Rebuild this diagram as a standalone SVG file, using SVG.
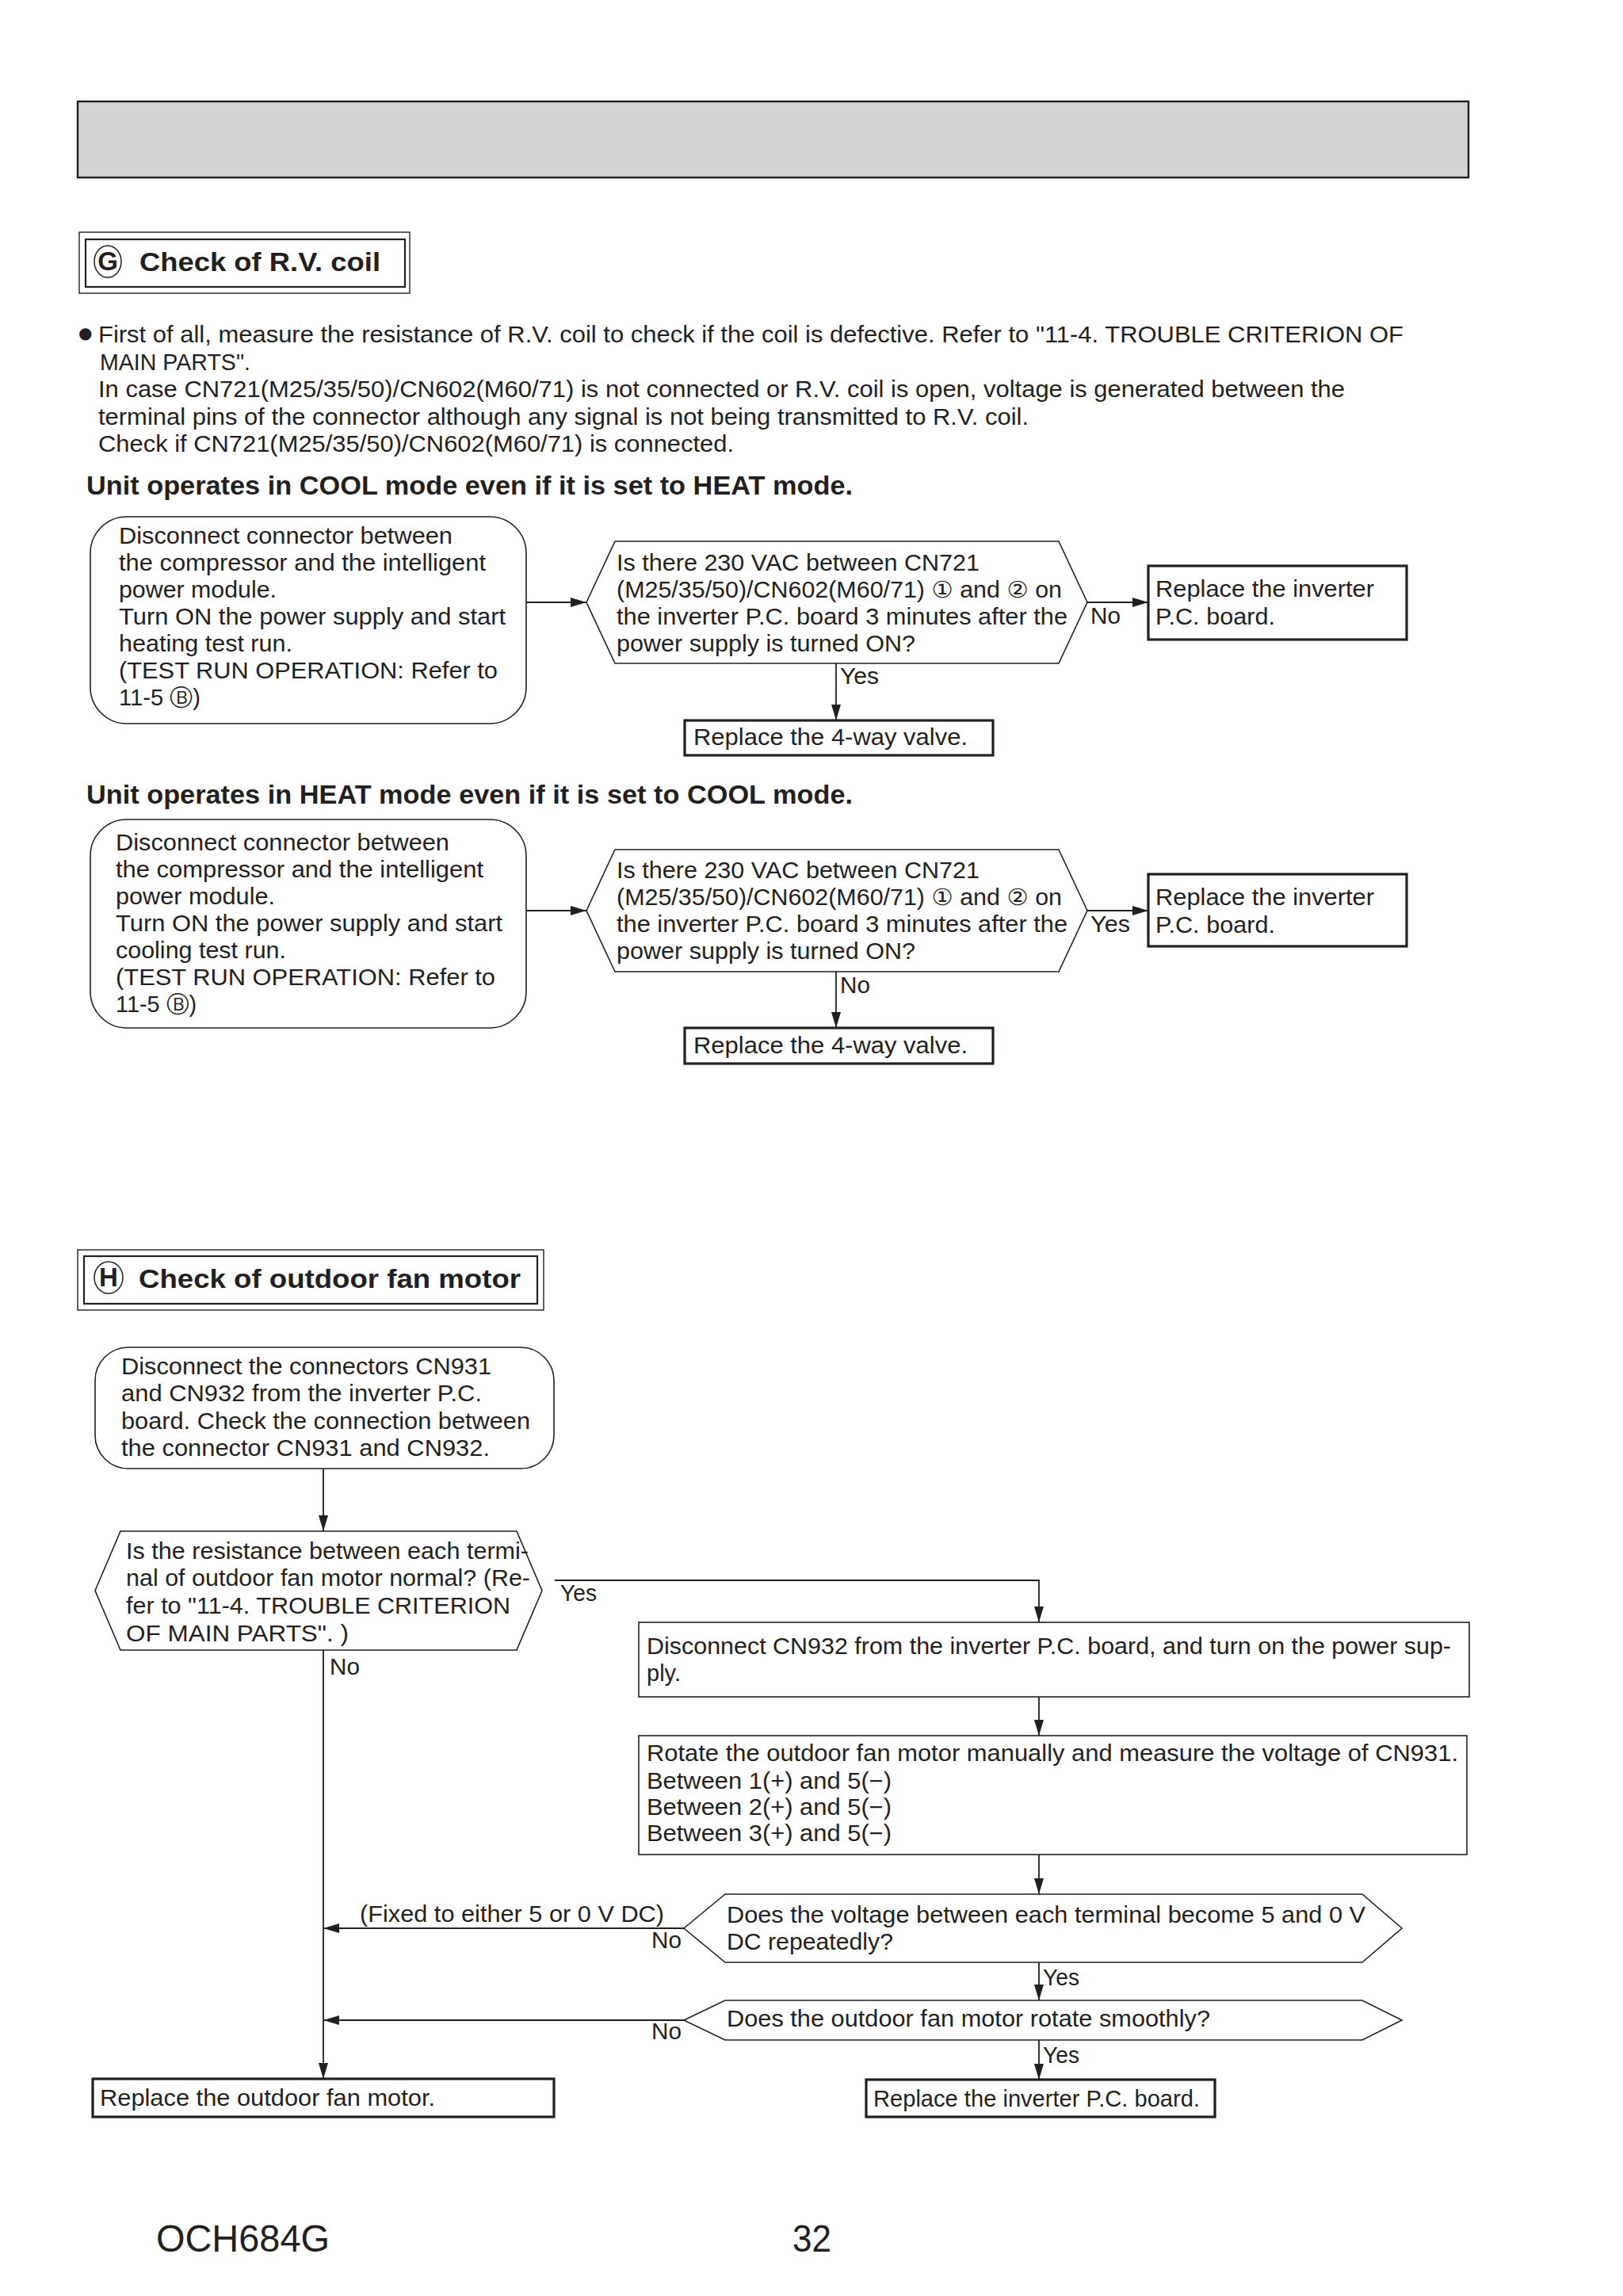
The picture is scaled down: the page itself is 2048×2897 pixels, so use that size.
<svg xmlns="http://www.w3.org/2000/svg" width="2048" height="2897" viewBox="0 0 2048 2897">
<style>
.t{font-family:"Liberation Sans","DejaVu Sans",Arial,sans-serif;font-size:29px;fill:#231f20}
.b{font-family:"Liberation Sans","DejaVu Sans",Arial,sans-serif;font-size:33px;font-weight:bold;fill:#231f20}
.f{font-family:"Liberation Sans","DejaVu Sans",Arial,sans-serif;font-size:48px;fill:#231f20}
.s{fill:#fff;stroke:#231f20;stroke-width:1.6}
.k{fill:#fff;stroke:#231f20;stroke-width:3.2}
.c{fill:none;stroke:#231f20;stroke-width:1.8}
</style>
<defs>
<marker id="ah" markerUnits="userSpaceOnUse" markerWidth="20" markerHeight="12" refX="20" refY="6" orient="auto">
<path d="M0,0 L20,6 L0,12 z" fill="#231f20"/>
</marker>
</defs>
<rect width="2048" height="2897" fill="#fff"/>
<g id="header"><rect x="98" y="128" width="1755" height="96" fill="#d3d4d6" stroke="#231f20" stroke-width="2.4"/></g>

<g id="titleG">
<rect x="100" y="293" width="417" height="77" fill="none" stroke="#231f20" stroke-width="1.4"/>
<rect x="108" y="302" width="403" height="60" fill="none" stroke="#231f20" stroke-width="2.2"/>
<ellipse cx="136" cy="330" rx="17" ry="20" fill="none" stroke="#231f20" stroke-width="1.5"/>
<text class="b" x="136" y="341" text-anchor="middle" font-size="30">G</text>
<text class="b" x="176" y="342" textLength="304" lengthAdjust="spacingAndGlyphs">Check of R.V. coil</text>
</g>

<g id="intro">
<text x="99" y="427" style="font-family:'DejaVu Sans',sans-serif;font-size:20px;fill:#231f20">●</text>
<text class="t" x="124" y="432" textLength="1647" lengthAdjust="spacingAndGlyphs">First of all, measure the resistance of R.V. coil to check if the coil is defective. Refer to "11-4. TROUBLE CRITERION OF</text>
<text class="t" x="126" y="467" textLength="190" lengthAdjust="spacingAndGlyphs">MAIN PARTS".</text>
<text class="t" x="124" y="501" textLength="1573" lengthAdjust="spacingAndGlyphs">In case CN721(M25/35/50)/CN602(M60/71) is not connected or R.V. coil is open, voltage is generated between the</text>
<text class="t" x="124" y="536" textLength="1174" lengthAdjust="spacingAndGlyphs">terminal pins of the connector although any signal is not being transmitted to R.V. coil.</text>
<text class="t" x="124" y="570" textLength="802" lengthAdjust="spacingAndGlyphs">Check if CN721(M25/35/50)/CN602(M60/71) is connected.</text>
<text class="b" x="109" y="624" textLength="967" lengthAdjust="spacingAndGlyphs">Unit operates in COOL mode even if it is set to HEAT mode.</text>
<text class="b" x="109" y="1014" textLength="967" lengthAdjust="spacingAndGlyphs">Unit operates in HEAT mode even if it is set to COOL mode.</text>
</g>

<g id="connectors">
<line class="c" x1="664" y1="760" x2="740" y2="760" marker-end="url(#ah)"/>
<line class="c" x1="1372" y1="760" x2="1449" y2="760" marker-end="url(#ah)"/>
<line class="c" x1="1055" y1="837" x2="1055" y2="909" marker-end="url(#ah)"/>
<line class="c" x1="664" y1="1149" x2="740" y2="1149" marker-end="url(#ah)"/>
<line class="c" x1="1372" y1="1149" x2="1449" y2="1149" marker-end="url(#ah)"/>
<line class="c" x1="1055" y1="1226" x2="1055" y2="1297" marker-end="url(#ah)"/>
<line class="c" x1="408" y1="1853" x2="408" y2="1932" marker-end="url(#ah)"/>
<path class="c" d="M700,1994 H1311 V2047" marker-end="url(#ah)"/>
<line class="c" x1="1311" y1="2141" x2="1311" y2="2190" marker-end="url(#ah)"/>
<line class="c" x1="1311" y1="2340" x2="1311" y2="2390" marker-end="url(#ah)"/>
<line class="c" x1="863" y1="2433" x2="408" y2="2433" stroke-width="2.4" marker-end="url(#ah)"/>
<line class="c" x1="1311" y1="2476" x2="1311" y2="2524" marker-end="url(#ah)"/>
<line class="c" x1="863" y1="2549" x2="408" y2="2549" stroke-width="2.4" marker-end="url(#ah)"/>
<line class="c" x1="1311" y1="2574" x2="1311" y2="2624" marker-end="url(#ah)"/>
<line class="c" x1="408" y1="2082" x2="408" y2="2623" marker-end="url(#ah)"/>
<text class="t" x="1376" y="787" textLength="38" lengthAdjust="spacingAndGlyphs">No</text>
<text class="t" x="1060" y="863" textLength="49" lengthAdjust="spacingAndGlyphs">Yes</text>
<text class="t" x="1376" y="1176" textLength="50" lengthAdjust="spacingAndGlyphs">Yes</text>
<text class="t" x="1060" y="1253" textLength="38" lengthAdjust="spacingAndGlyphs">No</text>
<text class="t" x="707" y="2020" textLength="46" lengthAdjust="spacingAndGlyphs">Yes</text>
<text class="t" x="416" y="2113" textLength="38" lengthAdjust="spacingAndGlyphs">No</text>
<text class="t" x="454" y="2425" textLength="384" lengthAdjust="spacingAndGlyphs">(Fixed to either 5 or 0 V DC)</text>
<text class="t" x="822" y="2458" textLength="38" lengthAdjust="spacingAndGlyphs">No</text>
<text class="t" x="1316" y="2505" textLength="46" lengthAdjust="spacingAndGlyphs">Yes</text>
<text class="t" x="822" y="2573" textLength="38" lengthAdjust="spacingAndGlyphs">No</text>
<text class="t" x="1316" y="2603" textLength="46" lengthAdjust="spacingAndGlyphs">Yes</text>
</g>

<g id="g1-start">
<rect class="s" x="114" y="652" width="550" height="261" rx="46"/>
<text class="t" x="150" y="686" textLength="421" lengthAdjust="spacingAndGlyphs">Disconnect connector between</text>
<text class="t" x="150" y="720" textLength="463" lengthAdjust="spacingAndGlyphs">the compressor and the intelligent</text>
<text class="t" x="150" y="754" textLength="199" lengthAdjust="spacingAndGlyphs">power module.</text>
<text class="t" x="150" y="788" textLength="488" lengthAdjust="spacingAndGlyphs">Turn ON the power supply and start</text>
<text class="t" x="150" y="822" textLength="219" lengthAdjust="spacingAndGlyphs">heating test run.</text>
<text class="t" x="150" y="856" textLength="478" lengthAdjust="spacingAndGlyphs">(TEST RUN OPERATION: Refer to</text>
<text class="t" x="150" y="890" textLength="103" lengthAdjust="spacingAndGlyphs">11-5 Ⓑ)</text>
</g>
<g id="g1-decision">
<polygon class="s" points="740,760 776,683 1336,683 1372,760 1336,837 776,837"/>
<text class="t" x="778" y="720" textLength="458" lengthAdjust="spacingAndGlyphs">Is there 230 VAC between CN721</text>
<text class="t" x="778" y="754" textLength="562" lengthAdjust="spacingAndGlyphs">(M25/35/50)/CN602(M60/71) ① and ② on</text>
<text class="t" x="778" y="788" textLength="569" lengthAdjust="spacingAndGlyphs">the inverter P.C. board 3 minutes after the</text>
<text class="t" x="778" y="822" textLength="377" lengthAdjust="spacingAndGlyphs">power supply is turned ON?</text>
</g>
<g id="g1-board">
<rect class="k" x="1449" y="714" width="326" height="93"/>
<text class="t" x="1458" y="753" textLength="276" lengthAdjust="spacingAndGlyphs">Replace the inverter</text>
<text class="t" x="1458" y="788" textLength="151" lengthAdjust="spacingAndGlyphs">P.C. board.</text>
</g>
<g id="g1-valve">
<rect class="k" x="864" y="909" width="389" height="44"/>
<text class="t" x="875" y="940" textLength="346" lengthAdjust="spacingAndGlyphs">Replace the 4-way valve.</text>
</g>

<g id="g2-start">
<rect class="s" x="114" y="1034" width="550" height="263" rx="46"/>
<text class="t" x="146" y="1073" textLength="421" lengthAdjust="spacingAndGlyphs">Disconnect connector between</text>
<text class="t" x="146" y="1107" textLength="464" lengthAdjust="spacingAndGlyphs">the compressor and the intelligent</text>
<text class="t" x="146" y="1141" textLength="201" lengthAdjust="spacingAndGlyphs">power module.</text>
<text class="t" x="146" y="1175" textLength="488" lengthAdjust="spacingAndGlyphs">Turn ON the power supply and start</text>
<text class="t" x="146" y="1209" textLength="215" lengthAdjust="spacingAndGlyphs">cooling test run.</text>
<text class="t" x="146" y="1243" textLength="479" lengthAdjust="spacingAndGlyphs">(TEST RUN OPERATION: Refer to</text>
<text class="t" x="146" y="1277" textLength="102" lengthAdjust="spacingAndGlyphs">11-5 Ⓑ)</text>
</g>
<g id="g2-decision">
<polygon class="s" points="740,1149 776,1072 1336,1072 1372,1149 1336,1226 776,1226"/>
<text class="t" x="778" y="1108" textLength="458" lengthAdjust="spacingAndGlyphs">Is there 230 VAC between CN721</text>
<text class="t" x="778" y="1142" textLength="562" lengthAdjust="spacingAndGlyphs">(M25/35/50)/CN602(M60/71) ① and ② on</text>
<text class="t" x="778" y="1176" textLength="569" lengthAdjust="spacingAndGlyphs">the inverter P.C. board 3 minutes after the</text>
<text class="t" x="778" y="1210" textLength="377" lengthAdjust="spacingAndGlyphs">power supply is turned ON?</text>
</g>
<g id="g2-board">
<rect class="k" x="1449" y="1103" width="326" height="91"/>
<text class="t" x="1458" y="1142" textLength="276" lengthAdjust="spacingAndGlyphs">Replace the inverter</text>
<text class="t" x="1458" y="1177" textLength="151" lengthAdjust="spacingAndGlyphs">P.C. board.</text>
</g>
<g id="g2-valve">
<rect class="k" x="864" y="1297" width="389" height="45"/>
<text class="t" x="875" y="1329" textLength="346" lengthAdjust="spacingAndGlyphs">Replace the 4-way valve.</text>
</g>

<g id="titleH">
<rect x="98" y="1577" width="588" height="76" fill="none" stroke="#231f20" stroke-width="1.4"/>
<rect x="106" y="1585" width="572" height="60" fill="none" stroke="#231f20" stroke-width="2.2"/>
<ellipse cx="137" cy="1612" rx="18" ry="20" fill="none" stroke="#231f20" stroke-width="1.5"/>
<text class="b" x="137" y="1623" text-anchor="middle" font-size="30">H</text>
<text class="b" x="175" y="1625" textLength="482" lengthAdjust="spacingAndGlyphs">Check of outdoor fan motor</text>
</g>

<g id="h-start">
<rect class="s" x="120" y="1700" width="579" height="153" rx="42"/>
<text class="t" x="153" y="1734" textLength="467" lengthAdjust="spacingAndGlyphs">Disconnect the connectors CN931</text>
<text class="t" x="153" y="1768" textLength="455" lengthAdjust="spacingAndGlyphs">and CN932 from the inverter P.C.</text>
<text class="t" x="153" y="1803" textLength="516" lengthAdjust="spacingAndGlyphs">board. Check the connection between</text>
<text class="t" x="153" y="1837" textLength="465" lengthAdjust="spacingAndGlyphs">the connector CN931 and CN932.</text>
</g>
<g id="h-resistance">
<polygon class="s" points="120,2007 152,1932 652,1932 684,2007 652,2082 152,2082"/>
<text class="t" x="159" y="1967" textLength="508" lengthAdjust="spacingAndGlyphs">Is the resistance between each termi-</text>
<text class="t" x="159" y="2001" textLength="510" lengthAdjust="spacingAndGlyphs">nal of outdoor fan motor normal? (Re-</text>
<text class="t" x="159" y="2036" textLength="485" lengthAdjust="spacingAndGlyphs">fer to "11-4. TROUBLE CRITERION</text>
<text class="t" x="159" y="2071" textLength="281" lengthAdjust="spacingAndGlyphs">OF MAIN PARTS". )</text>
</g>
<g id="h-disconnect">
<rect class="s" x="806" y="2047" width="1048" height="94"/>
<text class="t" x="816" y="2087" textLength="1015" lengthAdjust="spacingAndGlyphs">Disconnect CN932 from the inverter P.C. board, and turn on the power sup-</text>
<text class="t" x="816" y="2121">ply.</text>
</g>
<g id="h-rotate">
<rect class="s" x="806" y="2190" width="1045" height="150"/>
<text class="t" x="816" y="2222" textLength="1024" lengthAdjust="spacingAndGlyphs">Rotate the outdoor fan motor manually and measure the voltage of CN931.</text>
<text class="t" x="816" y="2257" textLength="309" lengthAdjust="spacingAndGlyphs">Between 1(+) and 5(−)</text>
<text class="t" x="816" y="2290" textLength="309" lengthAdjust="spacingAndGlyphs">Between 2(+) and 5(−)</text>
<text class="t" x="816" y="2323" textLength="309" lengthAdjust="spacingAndGlyphs">Between 3(+) and 5(−)</text>
</g>
<g id="h-voltage">
<polygon class="s" points="863,2433 915,2390 1719,2390 1769,2433 1719,2476 915,2476"/>
<text class="t" x="917" y="2426" textLength="806" lengthAdjust="spacingAndGlyphs">Does the voltage between each terminal become 5 and 0 V</text>
<text class="t" x="917" y="2460" textLength="210" lengthAdjust="spacingAndGlyphs">DC repeatedly?</text>
</g>
<g id="h-smooth">
<polygon class="s" points="863,2549 915,2524 1719,2524 1769,2549 1719,2574 915,2574"/>
<text class="t" x="917" y="2557" textLength="610" lengthAdjust="spacingAndGlyphs">Does the outdoor fan motor rotate smoothly?</text>
</g>
<g id="h-motor">
<rect class="k" x="117" y="2623" width="582" height="48"/>
<text class="t" x="126" y="2657" textLength="423" lengthAdjust="spacingAndGlyphs">Replace the outdoor fan motor.</text>
</g>
<g id="h-board">
<rect class="k" x="1093" y="2624" width="440" height="47"/>
<text class="t" x="1102" y="2658" textLength="412" lengthAdjust="spacingAndGlyphs">Replace the inverter P.C. board.</text>
</g>

<g id="footer">
<text class="f" x="197" y="2841" textLength="219" lengthAdjust="spacingAndGlyphs">OCH684G</text>
<text class="f" x="1000" y="2841" textLength="49" lengthAdjust="spacingAndGlyphs">32</text>
</g>
</svg>
